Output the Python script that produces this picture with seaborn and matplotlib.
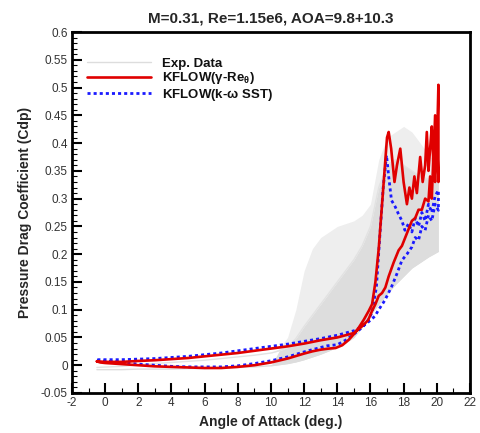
import numpy as np
import pandas as pd
import matplotlib
matplotlib.use("Agg")
import matplotlib.pyplot as plt
import seaborn as sns
from matplotlib.ticker import MultipleLocator

# ---------------- data ----------------
# Exp. data: thin lines at low AoA and a scattered band at high AoA
exp_aoa = [-0.5, 1, 2, 3, 4, 5, 6, 7, 8, 9, 10, 10.5, 11, 11.5, 12, 12.5, 13, 13.5, 14, 14.5, 15,
           15.5, 16, 16.5, 17, 17.5, 18, 18.5, 19, 19.5, 20.1]
exp_low = [-0.008, -0.008, -0.007, -0.007, -0.007, -0.006, -0.006, -0.005, -0.004, -0.003, -0.001, 0.001,
           0.003, 0.006, 0.010, 0.015, 0.020, 0.026, 0.033, 0.040, 0.050,
           0.068, 0.090, 0.110, 0.128, 0.145, 0.160, 0.175, 0.185, 0.195, 0.205]
exp_dense = [-0.004, -0.002, 0.001, 0.003, 0.005, 0.007, 0.009, 0.012, 0.015, 0.018, 0.022, 0.026,
             0.032, 0.048, 0.070, 0.090, 0.110, 0.130, 0.150, 0.170, 0.190,
             0.215, 0.250, 0.320, 0.360, 0.370, 0.360, 0.350, 0.340, 0.335, 0.330]
exp_sparse = [-0.004, -0.002, 0.001, 0.003, 0.005, 0.007, 0.009, 0.012, 0.015, 0.018, 0.022, 0.030,
              0.050, 0.100, 0.170, 0.210, 0.230, 0.240, 0.250, 0.255, 0.260,
              0.270, 0.290, 0.370, 0.410, 0.420, 0.430, 0.420, 0.400, 0.380, 0.360]

# KFLOW (gamma-Re_theta): upstroke then downstroke (closed loop)
red_aoa = [-0.5, -0.3, 0, 1, 2, 3, 4, 5, 6, 7, 8, 9, 10, 11, 12, 12.5, 13, 13.5, 13.9, 14.3, 14.7,
           15.0, 15.3, 15.6, 15.9, 16.1, 16.3, 16.5, 16.7, 16.85, 17.0, 17.1, 17.25, 17.45, 17.6,
           17.8, 18.0, 18.2, 18.35, 18.5, 18.65, 18.8, 19.0, 19.15, 19.3, 19.4, 19.5, 19.6, 19.7,
           19.8, 19.9, 20.0, 20.1,
           20.1, 20.0, 19.9, 19.8, 19.7, 19.6, 19.5, 19.3, 19.1, 18.9, 18.7, 18.5, 18.3, 18.1,
           17.9, 17.7, 17.4, 17.1, 16.9, 16.7, 16.5, 16.3, 16.1, 15.86, 15.45, 15.0, 14.0, 13.0,
           12.0, 11.0, 10.0, 9.0, 8.0, 7.0, 6.0, 5.0, 4.0, 3.0, 2.0, 1.0, 0.0, -0.5]
red_cdp = [0.007, 0.005, 0.004, 0.002, 0.000, -0.002, -0.003, -0.004, -0.005, -0.005, -0.003, 0.000,
           0.005, 0.012, 0.021, 0.025, 0.028, 0.030, 0.031, 0.036, 0.046,
           0.056, 0.068, 0.082, 0.098, 0.110, 0.150, 0.210, 0.290, 0.350, 0.410, 0.420, 0.390, 0.330,
           0.360, 0.390, 0.330, 0.290, 0.320, 0.300, 0.340, 0.310, 0.375, 0.330, 0.360, 0.420,
           0.350, 0.390, 0.430, 0.360, 0.450, 0.380, 0.505,
           0.330, 0.420, 0.330, 0.380, 0.300, 0.340, 0.295, 0.300, 0.280, 0.280, 0.265, 0.260,
           0.245, 0.230, 0.215, 0.207, 0.185, 0.160, 0.140, 0.130, 0.125, 0.110, 0.098, 0.081,
           0.069, 0.058, 0.050, 0.045, 0.039, 0.034, 0.030, 0.026, 0.022, 0.019, 0.016, 0.013,
           0.011, 0.009, 0.0077, 0.006, 0.006, 0.007]

# KFLOW (k-omega SST): upstroke then downstroke (closed loop)
blue_aoa = [-0.5, 0, 1, 2, 3, 4, 5, 6, 7, 8, 9, 10, 11, 12, 13, 13.4, 14.0, 14.5, 15.0, 15.5,
            15.8, 16.1, 16.36, 16.56, 16.77, 16.97, 17.1, 17.27, 17.5, 17.68, 17.9, 18.08, 18.3,
            18.5, 18.7, 18.9, 19.1, 19.3, 19.5, 19.7, 19.9, 20.1,
            20.1, 19.9, 19.7, 19.5, 19.3, 19.1, 18.9, 18.7, 18.5, 18.2, 17.9, 17.6, 17.27, 16.87,
            16.5, 16.26, 15.8, 15.4, 15.0, 14.0, 13.0, 12.0, 11.0, 10.0, 9.0, 8.0, 7.0, 6.0, 5.0,
            4.0, 3.0, 2.0, 1.0, 0.0, -0.5]
blue_cdp = [0.008, 0.007, 0.005, 0.002, 0.000, -0.002, -0.003, -0.003, -0.003, -0.001, 0.003, 0.008,
            0.015, 0.024, 0.032, 0.035, 0.037, 0.045, 0.056, 0.068, 0.078, 0.095, 0.141, 0.230,
            0.320, 0.378, 0.340, 0.297, 0.285, 0.273, 0.260, 0.243, 0.255, 0.240, 0.265, 0.250,
            0.275, 0.260, 0.290, 0.275, 0.305, 0.315,
            0.279, 0.290, 0.260, 0.270, 0.243, 0.250, 0.225, 0.230, 0.213, 0.200, 0.189, 0.165,
            0.141, 0.117, 0.100, 0.088, 0.076, 0.068, 0.062, 0.054, 0.048, 0.043, 0.038, 0.034,
            0.030, 0.026, 0.022, 0.019, 0.016, 0.014, 0.012, 0.011, 0.010, 0.010, 0.010]

title = "M=0.31, Re=1.15e6, AOA=9.8+10.3"
xlabel = "Angle of Attack (deg.)"
ylabel = "Pressure Drag Coefficient (Cdp)"
lab_exp = "Exp. Data"
lab_red = r"KFLOW($\mathbf{\gamma}$-Re$_{\theta}$)"
lab_blue = r"KFLOW(k-$\mathbf{\omega}$ SST)"

# ---------------- plot ----------------
sns.set_theme(style="white")
plt.rcParams["font.family"] = ["Liberation Sans", "DejaVu Sans"]
plt.rcParams["mathtext.fontset"] = "custom"
plt.rcParams["mathtext.rm"] = "Liberation Sans:bold"
plt.rcParams["mathtext.it"] = "Liberation Sans:bold"
plt.rcParams["mathtext.bf"] = "Liberation Sans:bold"

fig = plt.figure(figsize=(4.8, 4.33), dpi=100)
ax = fig.add_axes([0.150, 0.0924, 0.829, 0.8336])

exp_df = pd.DataFrame({"aoa": exp_aoa, "low": exp_low, "dense": exp_dense, "sparse": exp_sparse})
band = exp_df["aoa"] >= 10.5
ax.fill_between(exp_df["aoa"], exp_df["dense"], exp_df["sparse"], where=band,
                color="#eeeeee", lw=0, interpolate=True, zorder=1)
ax.fill_between(exp_df["aoa"], exp_df["low"], exp_df["dense"], where=band,
                color="#dddddd", lw=0, interpolate=True, zorder=1)
sns.lineplot(data=exp_df, x="aoa", y="low", color="#dddddd", lw=1.0, ax=ax, zorder=2,
             label=lab_exp, estimator=None, sort=False)
sns.lineplot(data=exp_df, x="aoa", y="dense", color="#e2e2e2", lw=1.0, ax=ax, zorder=2,
             estimator=None, sort=False)

sns.lineplot(x=red_aoa, y=red_cdp, color="#e00000", lw=1.9, ax=ax, zorder=4,
             label=lab_red, estimator=None, sort=False)
sns.lineplot(x=blue_aoa, y=blue_cdp, color="#1a1aff", lw=2.0, ax=ax, zorder=3,
             label=lab_blue, estimator=None, sort=False, linestyle=(0, (1.1, 1.1)))

ax.set_xlim(-2, 22)
ax.set_ylim(-0.05, 0.6)
ax.xaxis.set_major_locator(MultipleLocator(2))
ax.xaxis.set_minor_locator(MultipleLocator(1))
ax.yaxis.set_major_locator(MultipleLocator(0.05))
ax.yaxis.set_minor_locator(MultipleLocator(0.01))
ax.set_xticklabels([f"{v:g}" for v in ax.get_xticks()])
yt = ax.get_yticks()
ax.set_yticks(yt)
ax.set_yticklabels([f"{v:.2f}".rstrip("0").rstrip(".") if abs(v) > 1e-9 else "0" for v in yt])
ax.set_xlim(-2, 22)
ax.set_ylim(-0.05, 0.6)

ax.tick_params(which="major", direction="in", length=7, width=1.5, color="black",
               labelsize=8.5, labelcolor="#333333", bottom=True, left=True, top=False, right=False,
               pad=3)
ax.tick_params(which="minor", direction="in", length=3.5, width=0.8, color="black",
               bottom=True, left=True, top=False, right=False)
for s in ax.spines.values():
    s.set_color("black")
    s.set_linewidth(2.0)

ax.set_xlabel(xlabel, fontsize=10, fontweight="bold", labelpad=4)
ax.set_ylabel(ylabel, fontsize=10, fontweight="bold", labelpad=6)
ax.set_title(title, fontsize=11, fontweight="bold", pad=7)

leg = ax.legend(loc="upper left", bbox_to_anchor=(0.008, 0.963), frameon=False,
                handlelength=4.85, handletextpad=0.83, labelspacing=0.05,
                prop={"weight": "bold", "size": 9.5})
for t in leg.get_texts():
    t.set_color("#111111")

fig.savefig("out.png", dpi=100)
